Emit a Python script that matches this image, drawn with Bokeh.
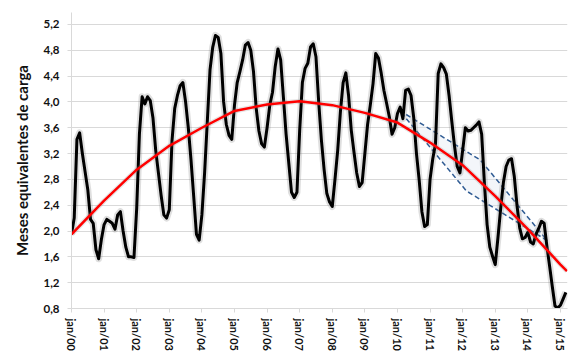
import math
from bokeh.plotting import figure
from bokeh.models import Range1d, FixedTicker, CustomJSTickFormatter
from bokeh.embed import file_html
from bokeh.resources import INLINE

# ---------------- data ----------------
x_labels = ["jan/00", "jan/01", "jan/02", "jan/03", "jan/04", "jan/05", "jan/06", "jan/07",
            "jan/08", "jan/09", "jan/10", "jan/11", "jan/12", "jan/13", "jan/14", "jan/15"]

# monthly values, jan/00 .. mar/15 (meses equivalentes de carga)
values = [
    1.95, 2.20, 3.42, 3.52, 3.20, 2.92, 2.64, 2.18, 2.12, 1.71, 1.57, 1.87,   # 2000
    2.10, 2.18, 2.15, 2.12, 2.03, 2.25, 2.30, 2.00, 1.75, 1.60, 1.60, 1.59,   # 2001
    2.35, 3.50, 4.08, 3.97, 4.08, 4.02, 3.75, 3.25, 2.90, 2.55, 2.25, 2.20,   # 2002
    2.33, 3.40, 3.90, 4.10, 4.25, 4.30, 4.00, 3.60, 3.10, 2.53, 1.95, 1.86,   # 2003
    2.25, 2.90, 3.70, 4.50, 4.85, 5.03, 5.00, 4.75, 4.00, 3.65, 3.48, 3.42,   # 2004
    3.95, 4.30, 4.47, 4.65, 4.88, 4.92, 4.80, 4.47, 3.90, 3.55, 3.35, 3.30,   # 2005
    3.60, 3.95, 4.15, 4.55, 4.82, 4.65, 4.08, 3.50, 3.05, 2.60, 2.52, 2.60,   # 2006
    3.56, 4.30, 4.52, 4.60, 4.85, 4.90, 4.70, 4.00, 3.41, 2.95, 2.58, 2.45,   # 2007
    2.38, 2.80, 3.25, 3.85, 4.30, 4.45, 4.10, 3.56, 3.22, 2.90, 2.69, 2.75,   # 2008
    3.20, 3.65, 3.95, 4.28, 4.75, 4.68, 4.45, 4.18, 3.98, 3.77, 3.50, 3.60,   # 2009
    3.82, 3.92, 3.74, 4.18, 4.20, 4.10, 3.75, 3.20, 2.79, 2.30, 2.07, 2.10,   # 2010
    2.80, 3.12, 3.35, 4.44, 4.59, 4.53, 4.43, 4.10, 3.70, 3.32, 3.00, 2.90,   # 2011
    3.25, 3.60, 3.55, 3.56, 3.60, 3.64, 3.69, 3.50, 2.75, 2.10, 1.75, 1.61,   # 2012
    1.48, 1.90, 2.35, 2.75, 3.00, 3.10, 3.12, 2.85, 2.40, 2.05, 1.88, 1.90,   # 2013
    1.98, 1.83, 1.80, 1.95, 2.04, 2.15, 2.12, 1.77, 1.46, 1.14, 0.84, 0.81,   # 2014
    0.85, 0.95, 1.05,                                                          # 2015
]

# polynomial trend line (red), read at each January and at the end
trend_years = [0, 1, 2, 3, 4, 5, 6, 7, 8, 9, 10, 11, 12, 13, 14, 15, 15.2]
trend_values = [1.95, 2.47, 2.95, 3.32, 3.60, 3.86, 3.96, 4.01, 3.95, 3.83,
                3.68, 3.37, 3.02, 2.54, 2.03, 1.48, 1.38]

# dashed channel (parallelogram), corners in months / value
channel_months = [120.7, 150.5, 175.2, 145.4]
channel_values = [3.87, 3.10, 1.85, 2.62]

y_ticks = [0.8, 1.2, 1.6, 2.0, 2.4, 2.8, 3.2, 3.6, 4.0, 4.4, 4.8, 5.2]

# ---------------- figure ----------------
months = list(range(len(values)))
trend_months = [y * 12 for y in trend_years]

p = figure(width=575, height=353, output_backend="svg", toolbar_location=None,
           x_range=Range1d(0, 182.6), y_range=Range1d(0.8, 5.385),
           min_border_left=71, min_border_right=8, min_border_top=12,
           min_border_bottom=44)
p.outline_line_color = None
p.background_fill_color = "white"
p.border_fill_color = "white"

FONT = "Lato"
TXT = "#111111"
GRID = "#d9d9d9"

# grid
p.xgrid.grid_line_color = None
p.ygrid.grid_line_color = GRID
p.ygrid.grid_line_width = 1

# y axis
p.yaxis.ticker = FixedTicker(ticks=y_ticks)
p.yaxis.formatter = CustomJSTickFormatter(code="return tick.toFixed(1).replace('.', ',');")
p.yaxis.axis_label = "Meses equivalentes de carga"
p.yaxis.axis_label_text_font = FONT
p.yaxis.axis_label_text_font_style = "bold"
p.yaxis.axis_label_text_font_size = "15px"
p.yaxis.axis_label_text_color = TXT
p.yaxis.axis_label_standoff = 9
p.yaxis.major_label_text_font = FONT
p.yaxis.major_label_text_font_style = "bold"
p.yaxis.major_label_text_font_size = "11.5px"
p.yaxis.major_label_text_color = TXT
p.yaxis.major_label_standoff = 8
p.yaxis.axis_line_color = GRID
p.yaxis.major_tick_line_color = GRID
p.yaxis.major_tick_out = 4
p.yaxis.major_tick_in = 0
p.yaxis.minor_tick_line_color = None

# x axis
p.xaxis.ticker = FixedTicker(ticks=[12 * i for i in range(len(x_labels))])
p.xaxis.major_label_overrides = {12 * i: lab for i, lab in enumerate(x_labels)}
p.xaxis.major_label_orientation = -math.pi / 2
p.xaxis.major_label_text_font = FONT
p.xaxis.major_label_text_font_style = "bold"
p.xaxis.major_label_text_font_size = "11px"
p.xaxis.major_label_text_color = TXT
p.xaxis.major_label_standoff = 6
p.xaxis.axis_line_color = GRID
p.xaxis.major_tick_line_color = GRID
p.xaxis.major_tick_out = 4
p.xaxis.major_tick_in = 0
p.xaxis.minor_tick_line_color = None

# channel
p.patch(channel_months, channel_values, fill_color="#dce6f2", fill_alpha=0.35,
        line_color=None)
p.line(channel_months + channel_months[:1], channel_values + channel_values[:1],
       line_color="#2f5b93", line_width=1.5, line_dash="5 3")

# black series with soft shadow
p.line(months, values, line_color="#808080", line_alpha=0.25, line_width=7,
       line_join="round")
p.line(months, values, line_color="black", line_width=3, line_join="round")

# red trend with soft shadow
p.line(trend_months, trend_values, line_color="#808080", line_alpha=0.2, line_width=5,
       line_join="round")
p.line(trend_months, trend_values, line_color="#ff0000", line_width=2.5, line_join="round")

open("out.html", "w").write(file_html(p, INLINE))
